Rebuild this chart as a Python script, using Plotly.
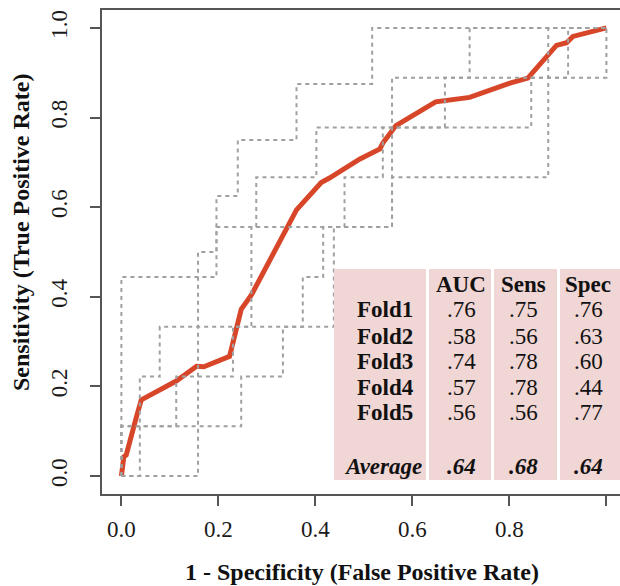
import plotly.graph_objects as go

# ---- mean ROC curve (red) ----
mean_fpr = [0, 0.005, 0.010, 0.024, 0.031, 0.041, 0.113, 0.155, 0.170, 0.223, 0.247, 0.268,
            0.312, 0.340, 0.361, 0.412, 0.429, 0.491, 0.533, 0.539, 0.566, 0.648, 0.667,
            0.718, 0.801, 0.838, 0.897, 0.918, 0.931, 1.0]
mean_tpr = [0, 0.043, 0.047, 0.098, 0.132, 0.170, 0.212, 0.245, 0.244, 0.267, 0.372, 0.404,
            0.494, 0.553, 0.594, 0.655, 0.665, 0.707, 0.730, 0.743, 0.782, 0.835, 0.838,
            0.845, 0.877, 0.888, 0.961, 0.967, 0.981, 1.0]

# ---- per-fold ROC vertices (step curves, grey dotted) ----
fold1_fpr = [0, 0.158, 0.196, 0.240, 0.361, 0.517, 1.0]
fold1_tpr = [0, 0.500, 0.625, 0.750, 0.875, 1.000, 1.0]
fold2_fpr = [0, 0.038, 0.079, 0.268, 0.460, 0.539, 0.667, 0.921, 1.0]
fold2_tpr = [0, 0.222, 0.333, 0.556, 0.667, 0.778, 0.889, 1.000, 1.0]
fold3_fpr = [0, 0.0, 0.196, 0.278, 0.402, 0.558, 0.718, 1.0]
fold3_tpr = [0, 0.444, 0.556, 0.667, 0.778, 0.889, 1.000, 1.0]
fold4_fpr = [0, 0.0, 0.113, 0.230, 0.374, 0.416, 0.558, 0.880, 1.0]
fold4_tpr = [0, 0.111, 0.222, 0.333, 0.444, 0.556, 0.667, 1.000, 1.0]
fold5_fpr = [0, 0.0, 0.247, 0.333, 0.438, 0.558, 0.845, 1.0]
fold5_tpr = [0, 0.111, 0.222, 0.333, 0.556, 0.778, 0.889, 1.0]

# ---- table ----
table_header = ["AUC", "Sens", "Spec"]
fold_names = ["Fold1", "Fold2", "Fold3", "Fold4", "Fold5"]
auc_vals = [".76", ".58", ".74", ".57", ".56"]
sens_vals = [".75", ".56", ".78", ".78", ".56"]
spec_vals = [".76", ".63", ".60", ".44", ".77"]
avg_label = "Average"
avg_vals = [".64", ".68", ".64"]

tick_vals = [0.0, 0.2, 0.4, 0.6, 0.8, 1.0]
tick_text = ["0.0", "0.2", "0.4", "0.6", "0.8", "1.0"]

W, H = 620, 586
ML, MR, MT, MB = 102, 0, 10, 92
PW, PH = W - ML - MR, H - MT - MB

def px(xp):
    return (xp - ML) / PW

def py(yp):
    return (H - MB - yp) / PH

SERIF = "Liberation Serif"
fig = go.Figure()

fig.add_trace(go.Scatter(x=mean_fpr, y=mean_tpr, mode="lines",
                         line=dict(color="#d8462a", width=5), hoverinfo="skip"))

folds = [(fold1_fpr, fold1_tpr), (fold2_fpr, fold2_tpr), (fold3_fpr, fold3_tpr),
         (fold4_fpr, fold4_tpr), (fold5_fpr, fold5_tpr)]
for fx, fy in folds:
    fig.add_trace(go.Scatter(x=fx, y=fy, mode="lines", line_shape="hv",
                             line=dict(color="#a0a0a0", width=2, dash="4px,4px"),
                             hoverinfo="skip"))

# table background panels
pink = "#f0d6d4"
panels = [(334, 426), (429, 491), (494, 557), (560, 620)]
for a, b in panels:
    fig.add_shape(type="rect", xref="paper", yref="paper",
                  x0=px(a), x1=px(b), y0=py(480), y1=py(269),
                  fillcolor=pink, line_width=0, layer="above")

col_x = [461, 523, 588]
label_x = 385
row_y = [310, 336.5, 361.5, 387, 412.5]
header_y = 285
avg_y = 466.5
tfont = dict(family=SERIF, size=23, color="#111111")

def ann(x, y, text, font, **kw):
    fig.add_annotation(x=px(x), y=py(y), xref="paper", yref="paper", text=text,
                       showarrow=False, xanchor="center", yanchor="middle", font=font, **kw)

for cx, h in zip(col_x, table_header):
    ann(cx, header_y, h, dict(**tfont, weight="bold"))
for i, name in enumerate(fold_names):
    ann(label_x, row_y[i], name, dict(**tfont, weight="bold"))
    for cx, v in zip(col_x, [auc_vals[i], sens_vals[i], spec_vals[i]]):
        ann(cx, row_y[i], v, tfont)
ann(label_x - 2, avg_y, avg_label, dict(**tfont, weight="bold", style="italic"))
for cx, v in zip(col_x, avg_vals):
    ann(cx, avg_y, v, dict(**tfont, weight="bold", style="italic"))

# axis titles
ann(362, 572, "1 - Specificity (False Positive Rate)",
    dict(family=SERIF, size=24, color="#111111", weight="bold"))
ann(21, 232, "Sensitivity (True Positive Rate)",
    dict(family=SERIF, size=24, color="#111111", weight="bold"), textangle=-90)

axis_common = dict(showgrid=False, zeroline=False, showline=True, linecolor="#555555",
                   linewidth=1.5, ticks="outside", ticklen=10, tickwidth=1.5,
                   tickcolor="#555555", tickvals=tick_vals, ticktext=tick_text,
                   tickfont=dict(family=SERIF, size=23, color="#1a1a1a"))
fig.update_xaxes(range=[-0.04, 1.028], mirror=True, ticklabelstandoff=4, **axis_common)
fig.update_yaxes(range=[-0.04, 1.04], mirror=False, tickangle=-90, ticklabelstandoff=14,
                 **axis_common)

fig.update_layout(width=W, height=H,
                  margin=dict(l=ML, r=MR, t=MT, b=MB, autoexpand=False),
                  paper_bgcolor="white", plot_bgcolor="white", showlegend=False)

fig.write_html("out.html", config={"displayModeBar": False},
               post_script="document.body.style.margin='0';document.body.style.padding='0';")
